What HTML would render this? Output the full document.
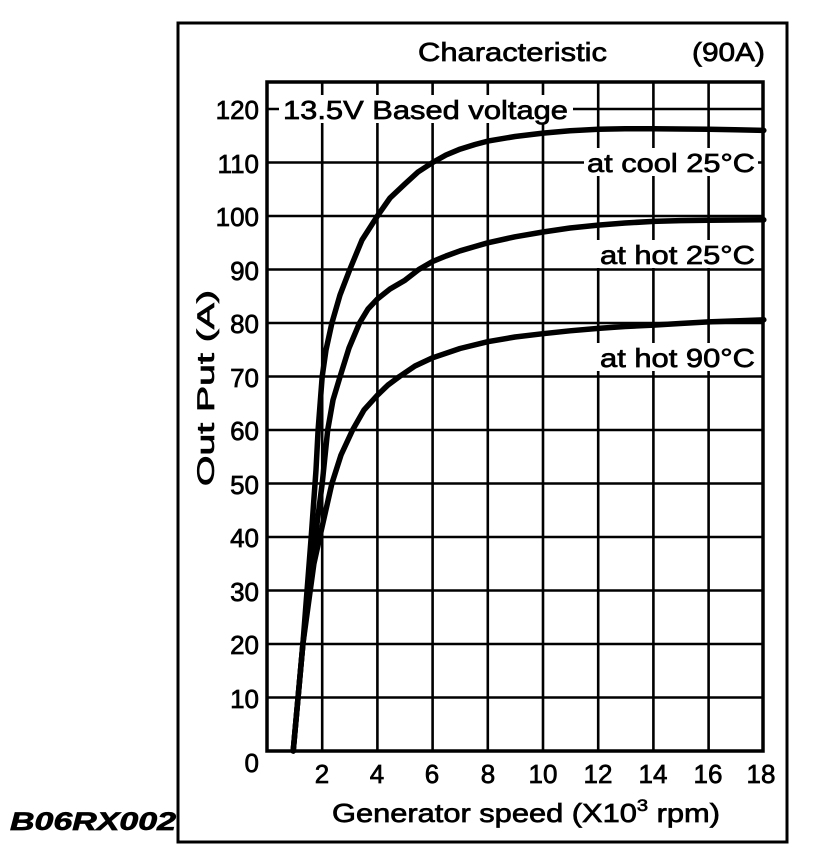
<!DOCTYPE html>
<html><head><meta charset="utf-8"><style>
html,body{margin:0;padding:0;background:#fff;}
svg{display:block;}
text{font-family:"Liberation Sans",Arial,sans-serif;fill:#000;stroke:#000;stroke-width:0.7;}
</style></head><body>
<svg width="832" height="868" viewBox="0 0 832 868" xmlns="http://www.w3.org/2000/svg">
<rect x="0" y="0" width="832" height="868" fill="#fff"/>
<rect x="178" y="23" width="609" height="819" fill="none" stroke="#000" stroke-width="3"/>
<g stroke="#000" stroke-width="2.6">
<line x1="322.2" y1="82" x2="322.2" y2="751"/>
<line x1="377.4" y1="82" x2="377.4" y2="751"/>
<line x1="432.6" y1="82" x2="432.6" y2="751"/>
<line x1="487.8" y1="82" x2="487.8" y2="751"/>
<line x1="543" y1="82" x2="543" y2="751"/>
<line x1="598.2" y1="82" x2="598.2" y2="751"/>
<line x1="653.4" y1="82" x2="653.4" y2="751"/>
<line x1="708.6" y1="82" x2="708.6" y2="751"/>
<line x1="267" y1="697.5" x2="763" y2="697.5"/>
<line x1="267" y1="644" x2="763" y2="644"/>
<line x1="267" y1="590.5" x2="763" y2="590.5"/>
<line x1="267" y1="537" x2="763" y2="537"/>
<line x1="267" y1="483.5" x2="763" y2="483.5"/>
<line x1="267" y1="430" x2="763" y2="430"/>
<line x1="267" y1="376.5" x2="763" y2="376.5"/>
<line x1="267" y1="323" x2="763" y2="323"/>
<line x1="267" y1="269.5" x2="763" y2="269.5"/>
<line x1="267" y1="216" x2="763" y2="216"/>
<line x1="267" y1="162.5" x2="763" y2="162.5"/>
<line x1="267" y1="109" x2="763" y2="109"/>
</g>
<rect x="279" y="95" width="294" height="28" fill="#fff"/>
<rect x="584" y="148" width="174" height="28" fill="#fff"/>
<rect x="596" y="240" width="162" height="28" fill="#fff"/>
<rect x="596" y="343" width="162" height="28" fill="#fff"/>
<g fill="none" stroke="#000" stroke-width="5.5" stroke-linejoin="round" stroke-linecap="round">
<polyline points="293.2,751 302.9,644 311.2,537 316,470 318.1,430 322.2,376.5 326,350 331.9,323 340,295 349.8,269.5 362,240 377.4,216 390,198 405,183.9 418,172 432.6,162.5 446,155 460.2,149.1 475,144.5 487.8,141.1 515,136.5 543,133.1 570,130.8 598.2,129.3 625,128.8 653.4,128.8 680,129 708.6,129.3 735,129.8 763.8,130.4"/>
<polyline points="293.2,751 302.9,644 315.3,537 322.2,483.5 327.7,430 333,400 340.1,376.5 349,348 359.5,323 368,309 377.4,299 390,289 405,280.2 418.8,269.5 432.6,261.5 446,256 460.2,250.8 475,246.5 487.8,242.8 515,236.8 543,232 570,228 598.2,225.1 625,223 653.4,221.4 680,220.6 708.6,220.3 763.8,219.8"/>
<polyline points="293.2,751 302.9,644 313.9,563.75 322.2,526.3 331.9,483.5 341,455 352.6,430 364,410 377.4,395.2 388,385 399.5,376.5 415,366 432.6,357.8 460,348.5 487.8,341.7 515,337 543,333.7 570,330.8 598.2,328.4 625,326.5 653.4,325.1 680,323.5 708.6,321.9 763.8,319.8"/>
</g>
<rect x="267" y="82" width="496" height="669" fill="none" stroke="#000" stroke-width="3.5"/>
<text x="283" y="119" font-size="26" textLength="285" lengthAdjust="spacingAndGlyphs">13.5V Based voltage</text>
<text x="587" y="172" font-size="26" textLength="168" lengthAdjust="spacingAndGlyphs">at cool 25°C</text>
<text x="600" y="264" font-size="26" textLength="155" lengthAdjust="spacingAndGlyphs">at hot 25°C</text>
<text x="600" y="367" font-size="26" textLength="155" lengthAdjust="spacingAndGlyphs">at hot 90°C</text>
<text x="418" y="61" font-size="26" textLength="189" lengthAdjust="spacingAndGlyphs">Characteristic</text>
<text x="692" y="61" font-size="26" textLength="73" lengthAdjust="spacingAndGlyphs">(90A)</text>
<g font-size="26" text-anchor="end">
<text x="259" y="119">120</text>
<text x="259" y="173">110</text>
<text x="259" y="226">100</text>
<text x="259" y="280">90</text>
<text x="259" y="333">80</text>
<text x="259" y="387">70</text>
<text x="259" y="440">60</text>
<text x="259" y="494">50</text>
<text x="259" y="547">40</text>
<text x="259" y="601">30</text>
<text x="259" y="654">20</text>
<text x="259" y="708">10</text>
<text x="259" y="772">0</text>
</g>
<g font-size="26" text-anchor="middle">
<text x="322" y="783">2</text>
<text x="377" y="783">4</text>
<text x="432" y="783">6</text>
<text x="488" y="783">8</text>
<text x="543" y="783">10</text>
<text x="598" y="783">12</text>
<text x="653" y="783">14</text>
<text x="708" y="783">16</text>
<text x="761" y="783">18</text>
</g>
<text x="332" y="822" font-size="26" textLength="388" lengthAdjust="spacingAndGlyphs">Generator speed (X10<tspan font-size="17" dy="-11">3</tspan><tspan dy="11"> rpm)</tspan></text>
<text transform="translate(214,388) rotate(-90)" font-size="24" text-anchor="middle" textLength="196" lengthAdjust="spacingAndGlyphs">Out Put (A)</text>
<text x="10" y="830" font-size="25" font-weight="bold" font-style="italic" textLength="166" lengthAdjust="spacingAndGlyphs">B06RX002</text>
</svg>
</body></html>
